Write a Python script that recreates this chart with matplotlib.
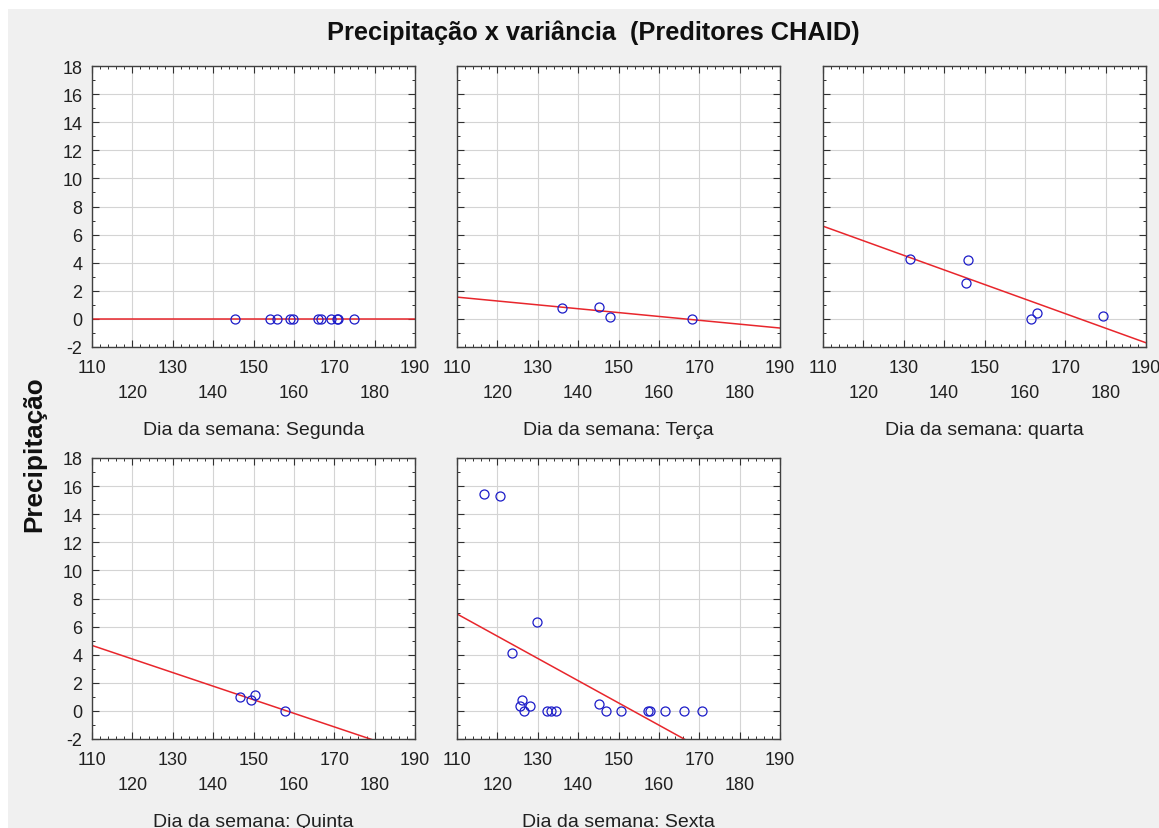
"""Precipitação x variância por dia da semana (preditores CHAID)."""

import matplotlib

matplotlib.use("Agg")
import matplotlib.pyplot as plt
from matplotlib.patches import Rectangle
from matplotlib.ticker import MultipleLocator


# DADOS

DAY_NAMES = ["Segunda", "Terça", "quarta", "Quinta", "Sexta"]

SEGUNDA_X = [145.4, 154.1, 155.9, 159.0, 159.7, 166.0, 166.7, 169.3, 170.6, 171.0, 175.0]
SEGUNDA_Y = [0, 0, 0, 0, 0, 0, 0, 0, 0, 0, 0]
TERCA_X = [136.0, 145.1, 148.0, 168.3]
TERCA_Y = [0.75, 0.82, 0.15, 0.0]
QUARTA_X = [131.6, 146.0, 145.5, 161.4, 163.1, 179.3]
QUARTA_Y = [4.23, 4.16, 2.57, 0.0, 0.43, 0.19]
QUINTA_X = [146.7, 149.3, 150.4, 157.7]
QUINTA_Y = [1.02, 0.78, 1.12, 0.0]
SEXTA_X = [116.7, 120.6, 123.6, 129.8, 126.1, 125.6, 126.7, 128.2, 132.3, 133.3,
           134.5, 145.1, 146.9, 150.5, 157.4, 157.8, 161.4, 166.3, 170.7]
SEXTA_Y = [15.45, 15.31, 4.12, 6.31, 0.75, 0.37, 0, 0.37, 0, 0,
           0, 0.5, 0, 0, 0, 0, 0, 0, 0]

# reta ajustada: valor em x=110 e em x=190
FIT_X = [110, 190]
FIT_Y_START = [0.0, 1.55, 6.6, 4.66, 6.9]
FIT_Y_END = [0.0, -0.65, -1.7, -3.07, -5.76]

X_TICKS = [110, 120, 130, 140, 150, 160, 170, 180, 190]
Y_TICKS = [-2, 0, 2, 4, 6, 8, 10, 12, 14, 16, 18]

SERIES = [
    (SEGUNDA_X, SEGUNDA_Y),
    (TERCA_X, TERCA_Y),
    (QUARTA_X, QUARTA_Y),
    (QUINTA_X, QUINTA_Y),
    (SEXTA_X, SEXTA_Y),
]

FONT = "Liberation Sans"
BG_COLOR = "#f0f0f0"
POINT_COLOR = "#1c1cc8"
LINE_COLOR = "#e8262c"

W, H = 1159, 829
# posição dos painéis em pixels (esquerda, topo)
PANEL_LEFT = [92, 457, 823, 92, 457]
PANEL_TOP = [67, 67, 67, 459, 459]
PANEL_W, PANEL_H = 323, 281


def _style_axes(ax, show_ylabels: bool) -> None:
    """Aplica o estilo de eixos do gráfico original."""
    ax.set_xlim(110, 190)
    ax.set_ylim(-2, 18)
    ax.set_xticks(X_TICKS)
    ax.set_yticks(Y_TICKS)
    ax.xaxis.set_minor_locator(MultipleLocator(2))
    ax.yaxis.set_minor_locator(MultipleLocator(1))
    # rótulos alternados em duas linhas
    labels = [str(v) if i % 2 == 0 else "\n" + str(v) for i, v in enumerate(X_TICKS)]
    ax.set_xticklabels(labels)
    plt.setp(ax.get_xticklabels(), linespacing=1.6)
    if not show_ylabels:
        ax.set_yticklabels([])
    ax.tick_params(which="both", direction="in", top=True, right=True, colors="#303030",
                   labelcolor="#202020", labelsize=13)
    ax.tick_params(which="major", length=5, width=0.8)
    ax.tick_params(which="minor", length=2.5, width=0.7)
    ax.tick_params(axis="x", pad=9)
    ax.tick_params(axis="y", pad=7)
    ax.grid(True, which="major", color="#d4d4d4", linewidth=0.8)
    ax.set_axisbelow(True)
    for spine in ax.spines.values():
        spine.set_color("#404040")
        spine.set_linewidth(1.0)


def main() -> None:
    plt.rcParams["font.family"] = [FONT, "DejaVu Sans"]
    plt.rcParams["axes.unicode_minus"] = False
    fig = plt.figure(figsize=(W / 100, H / 100), dpi=100)
    fig.patches.append(Rectangle((8 / W, 0), 1, 1 - 10 / H, transform=fig.transFigure,
                                 facecolor=BG_COLOR, edgecolor="none", zorder=-10))

    for i, (xs, ys) in enumerate(SERIES):
        rect = [PANEL_LEFT[i] / W, 1 - (PANEL_TOP[i] + PANEL_H) / H, PANEL_W / W, PANEL_H / H]
        ax = fig.add_axes(rect)
        ax.set_facecolor("white")
        ax.plot(FIT_X, [FIT_Y_START[i], FIT_Y_END[i]], color=LINE_COLOR, linewidth=1.1, zorder=2)
        ax.plot(xs, ys, linestyle="none", marker="o", markersize=6.5, markerfacecolor="none",
                markeredgecolor=POINT_COLOR, markeredgewidth=0.9, zorder=3)
        _style_axes(ax, show_ylabels=(i % 3 == 0))
        ax.set_xlabel(f"Dia da semana: {DAY_NAMES[i]}", fontsize=14, color="#202020", labelpad=14)

    fig.text(593.5 / W, 1 - 33 / H, "Precipitação x variância  (Preditores CHAID)",
             ha="center", va="center", fontsize=18.3, fontweight="bold", color="#101010")
    fig.text(34 / W, 1 - 454 / H, "Precipitação", rotation=90, ha="center", va="center",
             fontsize=18.8, fontweight="bold", color="#101010")

    fig.savefig("out.png", dpi=100)
    plt.close(fig)


if __name__ == "__main__":
    main()
